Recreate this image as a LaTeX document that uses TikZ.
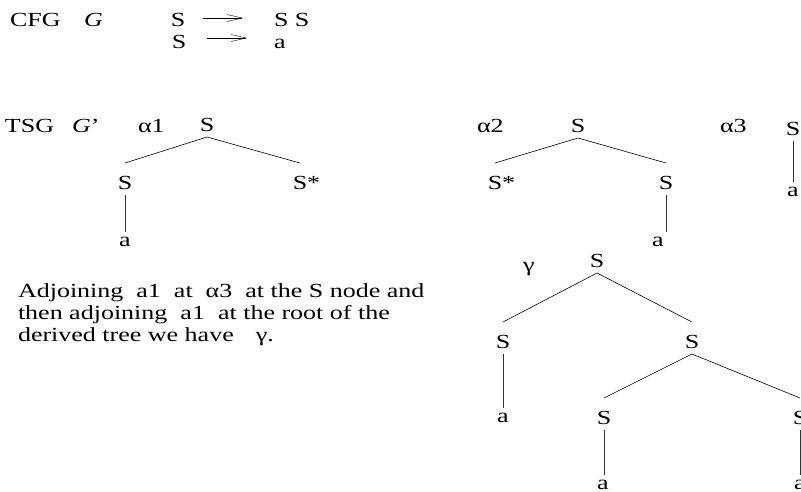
\documentclass[tikz,border=0pt]{standalone}
\usepackage{fontspec}
\setmainfont{Liberation Serif}[FakeStretch=1.3]
\usetikzlibrary{arrows.meta}

\begin{document}
\begin{tikzpicture}[x=1pt, y=-1pt,
		>={Straight Barb[length=15pt,width=7pt]},
		font=\fontsize{20}{23}\selectfont,
		every node/.style={inner sep=0pt, outer sep=0pt},
		lbl/.style={anchor=base west},
		cat/.style={anchor=base, text height=26pt, text depth=6pt},
		leaf/.style={anchor=base, text height=14pt, text depth=0pt},
		edge/.style={line width=0.6pt},
		stem/.style={line width=0.9pt, black!80}]

		\useasboundingbox (0,0) rectangle (801,491);
		\clip (0,0) rectangle (801,491);

		% the context-free grammar
		\node[lbl] (cfg) at (10,26) {CFG};
		\node[lbl] (cfgG) at (84,26) {\textit{G}};
		\node[anchor=base] (lhsA) at (178,26) {S};
		\node[lbl] (rhsA) at (274,26) {S S};
		\node[anchor=base] (lhsB) at (179,48) {S};
		\node[lbl] (rhsB) at (274,48) {a};

		\coordinate (arrA0) at (203,18);
		\coordinate (arrA1) at (243,18);
		\coordinate (arrB0) at (207,38);
		\coordinate (arrB1) at (247,38);

		\draw[->] (arrA0) -- (arrA1);
		\draw[->] (arrB0) -- (arrB1);

		% tree names
		\node[lbl] (tsg) at (5,132) {TSG};
		\node[lbl] (tsgG) at (72,132) {\textit{G}’};
		\node[lbl] (nameA) at (138,132) {α1};
		\node[lbl] (nameB) at (477,132) {α2};
		\node[lbl] (nameC) at (720,132) {α3};
		\node[lbl] (nameD) at (523,271) {γ};

		% alpha 1
		\node[cat] (aroot) at (207,131) {S};
		\node[cat] (aleft) at (125,189) {S};
		\node[cat] (afoot) at (300,189) {S\rlap{*}};
		\node[leaf] (aleaf) at (125,246) {a};

		\draw[edge] (aroot.south) -- (aleft.north);
		\draw[edge] (aroot.south) -- (afoot.north);
		\draw[stem] (aleft.south) -- (aleaf.north);

		% alpha 2
		\node[cat] (broot) at (578,132) {S};
		\node[cat] (bfoot) at (495,189) {S\rlap{*}};
		\node[cat] (bright) at (666,189) {S};
		\node[leaf] (bleaf) at (658,246) {a};

		\draw[edge] (broot.south) -- (bfoot.north);
		\draw[edge] (broot.south) -- (bright.north);
		\draw[stem] (bright.south) -- (bright.south |- bleaf.north);

		% alpha 3
		\node[cat] (croot) at (793,135) {S};
		\node[leaf] (cleaf) at (793,196) {a};

		\draw[stem] (croot.south) -- (cleaf.north);

		% derived tree gamma
		\node[cat] (groot) at (597,267) {S};
		\node[cat] (gleft) at (503,348) {S};
		\node[cat] (gright) at (692,348) {S};
		\node[leaf] (gleafA) at (503,422) {a};
		\node[cat] (grl) at (604,424) {S};
		\node[cat] (grr) at (800,424) {S};
		\node[leaf] (gleafB) at (603,489) {a};
		\node[leaf] (gleafC) at (800,489) {a};

		\draw[edge] (groot.south) -- (gleft.north);
		\draw[edge] (groot.south) -- (gright.north);
		\draw[stem] (gleft.south) -- (gleafA.north);
		\draw[edge] (gright.south) -- (grl.north);
		\draw[edge] (gright.south) -- (grr.north);
		\draw[stem] (grl.south) -- (grl.south |- gleafB.north);
		\draw[stem] (grr.south) -- (gleafC.north);

		% remark
		\node[lbl] (noteA) at (18,297) {Adjoining\ \ a1\ \ at\ \ α3\ \ at the S node and};
		\node[lbl] (noteB) at (18,319) {then adjoining\ \ a1\ \ at the root of the};
		\node[lbl] (noteC) at (18,341) {derived tree we have\hspace{22pt}γ.};
\end{tikzpicture}
\end{document}
